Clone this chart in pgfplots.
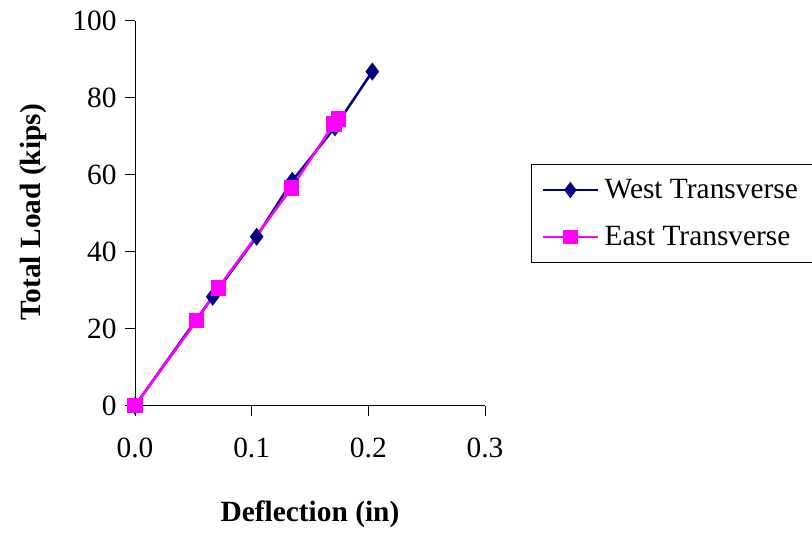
\documentclass[border=0pt]{standalone}
\usepackage{pgfplots}
\pgfplotsset{compat=1.18}
\usepackage{fontspec}
\setmainfont{Liberation Serif}
\definecolor{navyc}{RGB}{0,0,128}
\definecolor{magc}{RGB}{255,0,255}
\begin{document}
\begin{tikzpicture}[font=\fontsize{29.5}{34}\selectfont]
\useasboundingbox (0bp,0bp) rectangle (812bp,534bp);
\begin{axis}[
  at={(135bp,128.3bp)}, anchor=south west,
  scale only axis, width=350bp, height=385bp,
  xmin=0, xmax=0.3, ymin=0, ymax=100,
  xtick={0,0.1,0.2,0.3}, ytick={0,20,40,60,80,100},
  axis lines*=left,
  axis line style={line width=0.8bp, -},
  tick align=outside, major tick length=10bp,
  xtick style={black, line width=0.8bp},
  ytick style={black, line width=0.8bp},
  /pgf/number format/assume math mode=true,
  xticklabel style={/pgf/number format/fixed,/pgf/number format/precision=1,/pgf/number format/fixed zerofill, yshift=-19bp},
  yticklabel style={xshift=-5bp},
  xlabel={\textbf{Deflection (in)}},
  ylabel={\textbf{Total Load (kips)}},
  x label style={at={(axis description cs:0.5,-0.283)}, anchor=center},
  y label style={at={(axis description cs:-0.291,0.503)}, anchor=center, rotate=0},
  legend style={at={(1.1306,0.627)}, anchor=north west, draw=black, line width=0.8bp,
    font=\fontsize{29.5}{34}\selectfont, row sep=22bp, inner xsep=11bp, inner ysep=13bp,
    nodes={inner xsep=6bp}},
  legend cell align=left,
  legend image code/.code={\draw[#1, line width=1.5bp, mark repeat=2, mark phase=2] plot coordinates {(0bp,0bp)(27.5bp,0bp)(55bp,0bp)};},
]
\addplot[navyc, line width=2.5bp, mark=diamond*, mark size=7bp, mark options={fill=navyc, solid}] coordinates {
(0,0) (0.0666,28.3) (0.1043,43.9) (0.1348,58.4) (0.1714,72.3) (0.2034,86.8)};
\addlegendentry{West Transverse}
\addplot[magc, line width=2.5bp, mark=square*, mark size=6.5bp, mark options={fill=magc, solid}] coordinates {
(0,0) (0.0529,22.1) (0.0714,30.6) (0.1343,56.6) (0.1706,73.2) (0.1743,74.5)};
\addlegendentry{East Transverse}
\end{axis}
\end{tikzpicture}
\end{document}
